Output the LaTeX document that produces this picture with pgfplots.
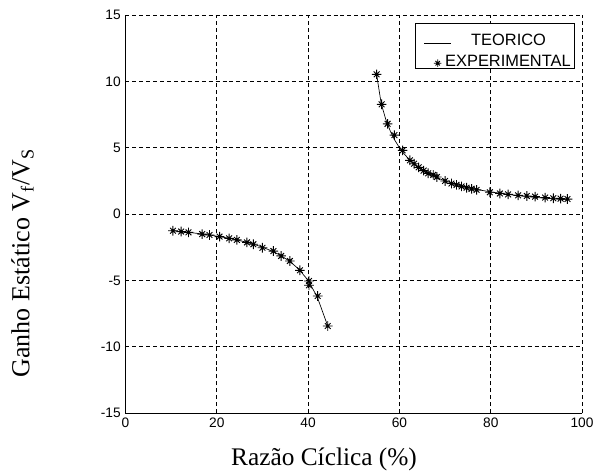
\documentclass[border=0pt]{standalone}
\usepackage{fontspec}
\setmainfont{Liberation Serif}
\newfontfamily\arialfont{Liberation Sans}
\usepackage{pgfplots}
\pgfplotsset{compat=1.18}
\pgfdeclareplotmark{mstar}{%
  \pgfpathmoveto{\pgfqpoint{-\pgfplotmarksize}{0pt}}\pgfpathlineto{\pgfqpoint{\pgfplotmarksize}{0pt}}%
  \pgfpathmoveto{\pgfqpoint{0pt}{-\pgfplotmarksize}}\pgfpathlineto{\pgfqpoint{0pt}{\pgfplotmarksize}}%
  \pgfpathmoveto{\pgfqpoint{-0.6\pgfplotmarksize}{-0.6\pgfplotmarksize}}\pgfpathlineto{\pgfqpoint{0.6\pgfplotmarksize}{0.6\pgfplotmarksize}}%
  \pgfpathmoveto{\pgfqpoint{-0.6\pgfplotmarksize}{0.6\pgfplotmarksize}}\pgfpathlineto{\pgfqpoint{0.6\pgfplotmarksize}{-0.6\pgfplotmarksize}}%
  \pgfusepathqstroke
  \pgfpathcircle{\pgfpointorigin}{0.35\pgfplotmarksize}\pgfusepathqfill}
\begin{document}
\begin{tikzpicture}
\begin{axis}[
  scale only axis, width=342.4pt, height=298.5pt,
  xmin=0, xmax=100, ymin=-15, ymax=15,
  xtick={0,20,40,60,80,100}, ytick={-15,-10,-5,0,5,10,15},
  axis x line*=bottom, axis y line*=left,
  axis line style={black, line width=0.7pt},
  tick align=inside, major tick length=2.5pt,
  tick style={black, line width=0.6pt},
  grid=major,
  major grid style={black, line width=0.6pt, dash pattern=on 3pt off 2.2pt},
  tick label style={font=\arialfont\fontsize{10.3}{12}\selectfont},
  /pgf/number format/assume math mode=true,
  xlabel={Razão Cíclica (\%)},
  ylabel={Ganho Estático V\textsubscript{f}/V\textsubscript{S}},
  every axis x label/.style={at={(axis description cs:0.5,0)}, anchor=base, yshift=-39pt, xshift=-22.3pt, font=\fontsize{19}{22}\selectfont},
  every axis y label/.style={at={(axis description cs:0,0.5)}, xshift=-72pt, yshift=-37pt, rotate=90, anchor=base, font=\fontsize{19.5}{22}\selectfont},
  unbounded coords=jump,
  legend style={at={(rel axis cs:1,1)}, anchor=north east, xshift=-5.25pt, yshift=-6.2pt,
    draw=black, line width=0.6pt, fill=white, inner xsep=0pt, inner ysep=0pt,
    font=\arialfont\fontsize{12.3}{14}\selectfont,
    nodes={inner sep=0pt}, cells={anchor=base west}, /tikz/column sep=0pt, /tikz/row sep=5.3pt},
]
\addplot[black, line width=0.5pt,
  legend image code/.code={\path[draw=none,fill=none] (0pt,-1pt) rectangle (29.3pt,1pt); \draw[black, line width=0.5pt] (6.5pt,0.5ex) -- (27pt,0.5ex);}]
coordinates {
(10,-1.25) (12,-1.3158) (14,-1.3889) (16,-1.4706) (18,-1.5625) (20,-1.6667)
(22,-1.7857) (24,-1.9231) (26,-2.0833) (28,-2.2727) (30,-2.5) (32,-2.7778)
(34,-3.125) (36,-3.5714) (38,-4.1667) (40,-5) (42,-6.25) (44.3,-8.44)
(50,inf)
(55,10.53) (56,8.3333) (57,7.1429) (58,6.25) (59,5.5556) (60,5) (61,4.5455)
(62,4.1667) (63,3.8462) (64,3.5714) (65,3.3333) (66,3.125) (67,2.9412)
(68,2.7778) (69,2.6316) (70,2.5) (72,2.2727) (74,2.0833) (76,1.9231)
(78,1.7857) (80,1.6667) (82,1.5625) (84,1.4706) (86,1.3889) (88,1.3158)
(90,1.25) (92,1.1905) (94,1.1364) (96,1.087) (96.8,1.07)
};
\addlegendentry{\hspace{12.5pt}TEORICO\rule{0pt}{16.7pt}}
\addplot[black, only marks, mark=mstar, mark size=3.6pt, mark options={line width=0.7pt},
  legend image code/.code={\path[draw=none,fill=none] (0pt,-1pt) rectangle (29.3pt,1pt); \draw[black, mark=mstar, mark size=2.8pt, mark options={line width=0.6pt}] plot coordinates {(16.7pt,0.5ex)};}]
coordinates {
(10.4,-1.26) (12.2,-1.32) (13.8,-1.38) (16.8,-1.51) (18.4,-1.58) (20.6,-1.70)
(22.7,-1.83) (24.4,-1.95) (26.6,-2.14) (28.0,-2.28) (30.0,-2.54) (32.4,-2.79)
(34.1,-3.16) (36.0,-3.54) (38.2,-4.24) (40.2,-5.05) (40.2,-5.37) (42.1,-6.18)
(44.3,-8.44)
(55.0,10.53) (56.1,8.27) (57.4,6.80) (58.9,5.95) (60.7,4.80) (62.3,4.05)
(63.2,3.79) (64.2,3.52) (65.3,3.27) (66.3,3.07) (67.4,2.95) (68.2,2.79)
(70.0,2.49) (71.4,2.30) (72.5,2.20) (73.6,2.08) (74.7,1.98) (75.8,1.90)
(76.9,1.82) (79.8,1.64) (82.0,1.55) (83.8,1.48) (86.0,1.41) (87.9,1.36)
(89.7,1.31) (91.9,1.24) (93.7,1.19) (95.3,1.16) (96.8,1.13)
};
\addlegendentry{\hspace{-7pt}EXPERIMENTAL\hspace{3pt}\rule[-3.35pt]{0pt}{0pt}}
\end{axis}
\pgfresetboundingbox
\path (-94.1pt,-44.25pt) rectangle (355.1pt,309.75pt);
\end{tikzpicture}
\end{document}
